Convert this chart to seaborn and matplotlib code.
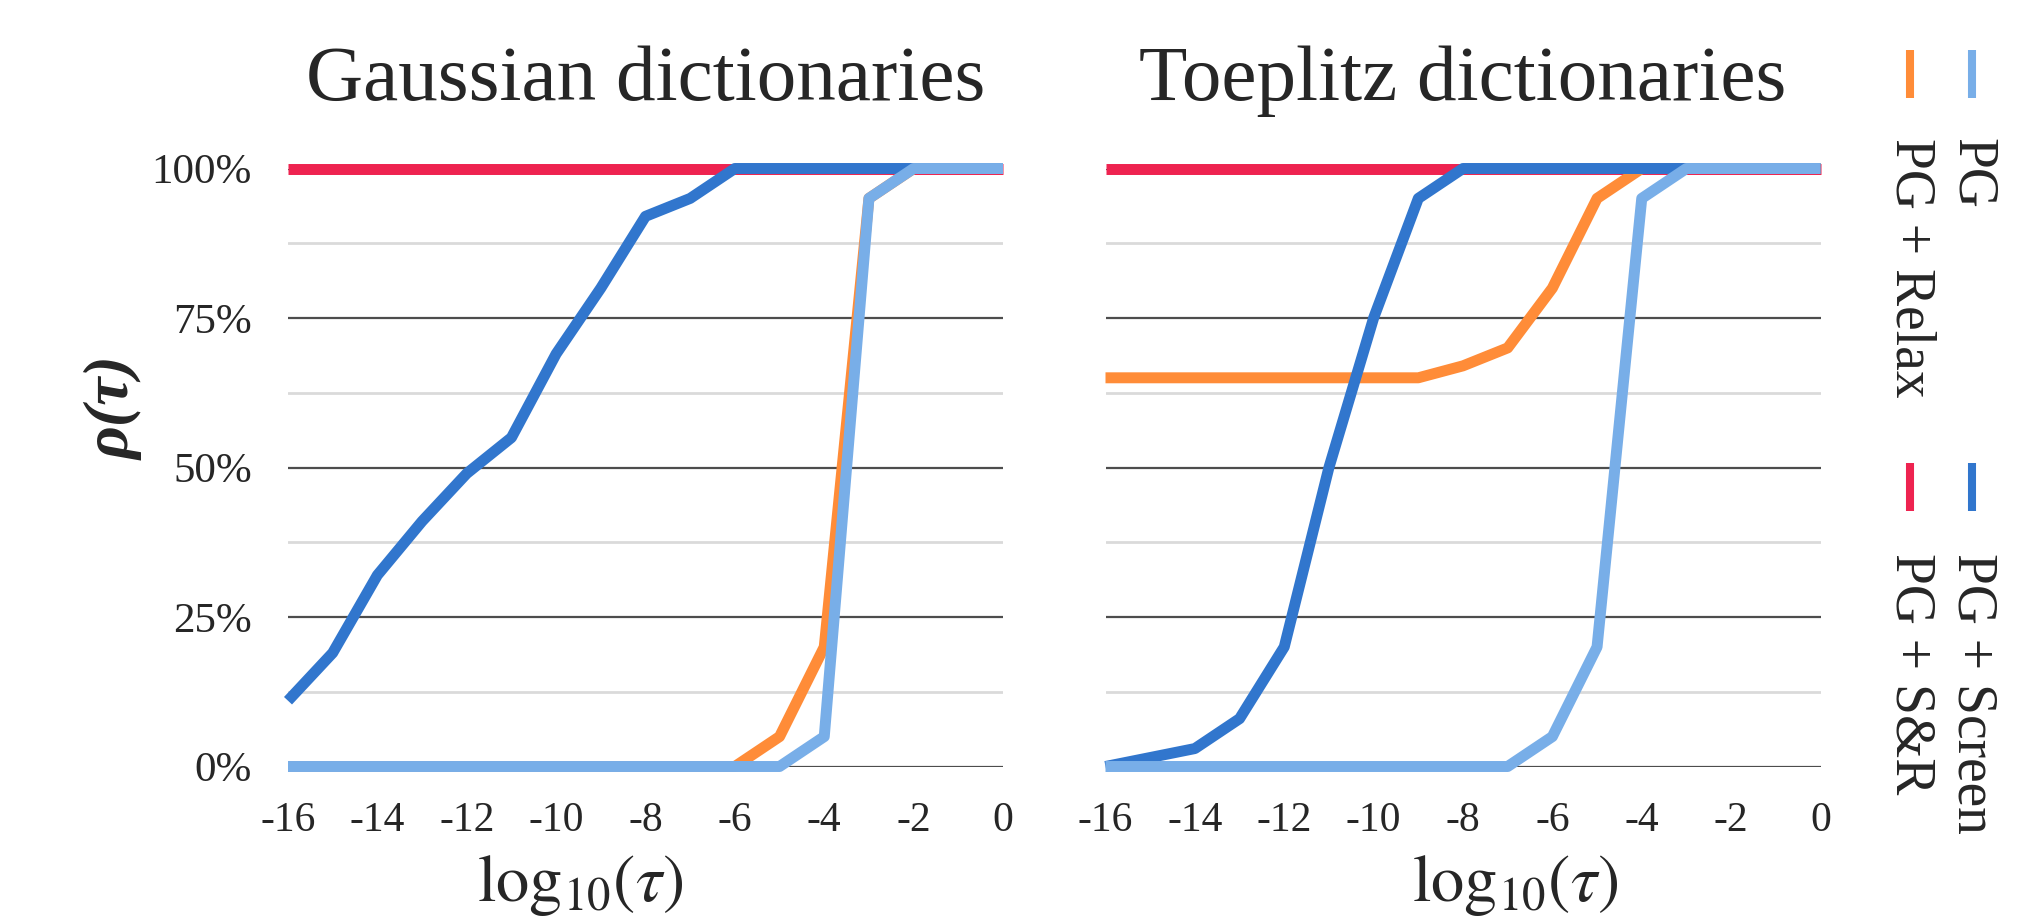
import numpy as np
import pandas as pd
import matplotlib
matplotlib.use('Agg')
import matplotlib.pyplot as plt
from matplotlib.lines import Line2D
from matplotlib.ticker import MultipleLocator, FuncFormatter
import seaborn as sns

# données (en %)
tau = [-16, -15, -14, -13, -12, -11, -10, -9, -8, -7, -6, -5, -4, -3, -2, -1, 0]
methods = ['PG + S&R', 'PG + Relax', 'PG + Screen', 'PG']
colors = {'PG + S&R': '#ee2350', 'PG + Relax': '#ff8c38',
          'PG + Screen': '#3176cd', 'PG': '#78aee8'}

gauss_sr = [100, 100, 100, 100, 100, 100, 100, 100, 100, 100, 100, 100, 100, 100, 100, 100, 100]
gauss_relax = [0, 0, 0, 0, 0, 0, 0, 0, 0, 0, 0, 5, 20, 95, 100, 100, 100]
gauss_screen = [11, 19, 32, 41, 49, 55, 69, 80, 92, 95, 100, 100, 100, 100, 100, 100, 100]
gauss_pg = [0, 0, 0, 0, 0, 0, 0, 0, 0, 0, 0, 0, 5, 95, 100, 100, 100]

toep_sr = [100, 100, 100, 100, 100, 100, 100, 100, 100, 100, 100, 100, 100, 100, 100, 100, 100]
toep_relax = [65, 65, 65, 65, 65, 65, 65, 65, 67, 70, 80, 95, 100, 100, 100, 100, 100]
toep_screen = [0, 1.5, 3, 8, 20, 50, 75, 95, 100, 100, 100, 100, 100, 100, 100, 100, 100]
toep_pg = [0, 0, 0, 0, 0, 0, 0, 0, 0, 0, 5, 20, 95, 100, 100, 100, 100]

titles = ['Gaussian dictionaries', 'Toeplitz dictionaries']


def make_df(sr, relax, screen, pg):
    """Tableau long pour seaborn"""
    parts = []
    for name, vals in zip(methods, [sr, relax, screen, pg]):
        parts.append(pd.DataFrame({'tau': tau, 'rho': vals, 'method': name}))
    return pd.concat(parts, ignore_index=True)


panels = [make_df(gauss_sr, gauss_relax, gauss_screen, gauss_pg),
          make_df(toep_sr, toep_relax, toep_screen, toep_pg)]

sns.set_theme(style='white')
plt.rcParams['font.family'] = ['Liberation Serif', 'DejaVu Serif']
plt.rcParams['mathtext.fontset'] = 'stix'
plt.rcParams['axes.unicode_minus'] = False

W, H = 2039, 918
fig = plt.figure(figsize=(W / 100, H / 100), dpi=100)
lefts = [288, 1105.5]
xlabel_x = [0.408, 0.573]

for i, df in enumerate(panels):
    ax = fig.add_axes([lefts[i] / W, (H - 766.5) / H, 715 / W, 598 / H])
    ax.set_axisbelow(True)
    sns.lineplot(data=df, x='tau', y='rho', hue='method', hue_order=methods,
                 palette=colors, linewidth=7.9, legend=False, ax=ax,
                 clip_on=False, solid_capstyle='butt')
    ax.set_xlim(-16, 0)
    ax.set_ylim(0, 100)
    ax.xaxis.set_major_locator(MultipleLocator(2))
    ax.yaxis.set_major_locator(MultipleLocator(25))
    ax.yaxis.set_minor_locator(MultipleLocator(12.5))
    ax.yaxis.set_major_formatter(FuncFormatter(lambda v, p: f'{v:.0f}%'))
    ax.grid(False)
    ax.grid(which='major', axis='y', color='#4d4d4d', linewidth=1.6)
    ax.grid(which='minor', axis='y', color='#dadada', linewidth=2)
    for s in ax.spines.values():
        s.set_visible(False)
    ax.tick_params(axis='x', length=0, pad=25, labelsize=30)
    ax.tick_params(axis='y', which='both', length=0, pad=26, labelsize=31)
    ax.set_title(titles[i], fontsize=57, y=1.115, pad=0)
    ax.set_xlabel(r'$\mathrm{log}_{10}(\tau)$', fontsize=48)
    ax.xaxis.set_label_coords(xlabel_x[i], -0.145)
    if i == 0:
        ax.set_ylabel('ρ(τ)', fontsize=46, fontweight='bold', fontstyle='italic')
        ax.yaxis.label.set_va('center')
        ax.yaxis.set_label_coords(-0.242, 0.6)
    else:
        ax.set_ylabel('')
        ax.tick_params(axis='y', labelleft=False)

# légende tournée (à droite)
legend_items = [('PG', 1972, 50, 138), ('PG + Relax', 1910, 50, 138),
                ('PG + Screen', 1972, 463, 553), ('PG + S&R', 1910, 463, 553)]
for name, xc, ym, yt in legend_items:
    fig.add_artist(Line2D([xc / W, xc / W], [1 - ym / H, 1 - (ym + 48) / H],
                          color=colors[name], linewidth=5.8,
                          solid_capstyle='butt', transform=fig.transFigure))
    fig.text(xc / W, 1 - yt / H, name, rotation=270, ha='center', va='top',
             fontsize=40)

fig.savefig('out.png', dpi=100, facecolor='white')
